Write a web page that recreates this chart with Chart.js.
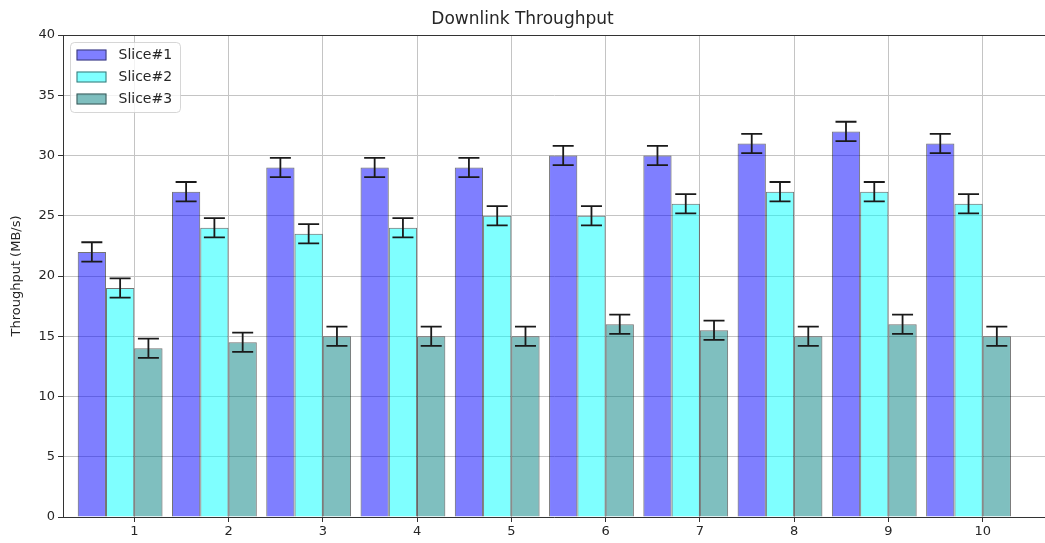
<!DOCTYPE html>
<html>
<head>
<meta charset="utf-8">
<script src="https://cdn.jsdelivr.net/npm/chart.js@4/dist/chart.umd.min.js"></script>
<style>
  html, body { margin: 0; padding: 0; background: #ffffff; }
  canvas { display: block; }
</style>
</head>
<body>
<canvas id="chart" width="1045" height="543"></canvas>
<script>
// Downlink throughput per slice, one bar per slice for each run
const categories = [1, 2, 3, 4, 5, 6, 7, 8, 9, 10];
const seriesNames = ['Slice#1', 'Slice#2', 'Slice#3'];
const slice1 = [22, 27, 29, 29, 29, 30, 30, 31, 32, 31];
const slice2 = [19, 24, 23.5, 24, 25, 25, 26, 27, 27, 26];
const slice3 = [14, 14.5, 15, 15, 15, 16, 15.5, 15, 16, 15];
const err1 = [0.8, 0.8, 0.8, 0.8, 0.8, 0.8, 0.8, 0.8, 0.8, 0.8];
const err2 = [0.8, 0.8, 0.8, 0.8, 0.8, 0.8, 0.8, 0.8, 0.8, 0.8];
const err3 = [0.8, 0.8, 0.8, 0.8, 0.8, 0.8, 0.8, 0.8, 0.8, 0.8];
const yTicks = [0, 5, 10, 15, 20, 25, 30, 35, 40];

const FONT = 'DejaVu Sans';
Chart.defaults.font.family = FONT;
Chart.defaults.color = '#262626';

// group of three bars sits to the left of each tick: Slice#2 ends on the tick
const GROUP_SHIFT = -0.15;
const toPoints = vals => categories.map((c, k) => ({ x: c + GROUP_SHIFT, y: vals[k] }));

const fills = ['rgba(0,0,255,0.5)', 'rgba(0,255,255,0.5)', 'rgba(0,128,128,0.5)'];
const edges = 'rgba(0,0,0,0.55)';

const datasets = [slice1, slice2, slice3].map((vals, i) => ({
  label: seriesNames[i],
  data: toPoints(vals),
  errors: [err1, err2, err3][i],
  backgroundColor: fills[i],
  borderColor: edges,
  borderWidth: 1,
  categoryPercentage: 0.9,
  barPercentage: 1.0
}));

// error bars with caps, placed through the y scale
const errorBars = {
  id: 'errorBars',
  afterDatasetsDraw(chart) {
    const ctx = chart.ctx;
    const ys = chart.scales.y;
    ctx.save();
    ctx.strokeStyle = '#1a1a1a';
    ctx.lineWidth = 1.8;
    chart.data.datasets.forEach((ds, di) => {
      const meta = chart.getDatasetMeta(di);
      meta.data.forEach((bar, k) => {
        const v = ds.data[k].y;
        const e = ds.errors[k];
        const top = ys.getPixelForValue(v + e);
        const bot = ys.getPixelForValue(v - e);
        const cx = bar.x;
        const cap = 10.5;
        ctx.beginPath();
        ctx.moveTo(cx, top); ctx.lineTo(cx, bot);
        ctx.moveTo(cx - cap, top); ctx.lineTo(cx + cap, top);
        ctx.moveTo(cx - cap, bot); ctx.lineTo(cx + cap, bot);
        ctx.stroke();
      });
    });
    ctx.restore();
  }
};

// top frame line and the legend box in the upper-left corner of the plot
const frameAndLegend = {
  id: 'frameAndLegend',
  afterDraw(chart) {
    const ctx = chart.ctx;
    const a = chart.chartArea;
    ctx.save();
    ctx.strokeStyle = '#333333';
    ctx.lineWidth = 1;
    ctx.beginPath();
    ctx.moveTo(a.left, Math.round(a.top) + 0.5);
    ctx.lineTo(a.right, Math.round(a.top) + 0.5);
    ctx.stroke();

    const bx = a.left + 7.5, by = a.top + 7.5, bw = 110, bh = 70, r = 4;
    ctx.beginPath();
    ctx.moveTo(bx + r, by);
    ctx.lineTo(bx + bw - r, by);
    ctx.arcTo(bx + bw, by, bx + bw, by + r, r);
    ctx.lineTo(bx + bw, by + bh - r);
    ctx.arcTo(bx + bw, by + bh, bx + bw - r, by + bh, r);
    ctx.lineTo(bx + r, by + bh);
    ctx.arcTo(bx, by + bh, bx, by + bh - r, r);
    ctx.lineTo(bx, by + r);
    ctx.arcTo(bx, by, bx + r, by, r);
    ctx.closePath();
    ctx.fillStyle = 'rgba(255,255,255,0.8)';
    ctx.fill();
    ctx.strokeStyle = 'rgba(204,204,204,0.8)';
    ctx.stroke();

    ctx.font = '14px "' + FONT + '"';
    ctx.textBaseline = 'middle';
    ctx.textAlign = 'left';
    chart.data.datasets.forEach((ds, i) => {
      const cy = by + 12.5 + i * 22;
      ctx.fillStyle = ds.backgroundColor;
      ctx.fillRect(bx + 6, cy - 5.5, 30, 11);
      ctx.strokeStyle = ds.borderColor;
      ctx.lineWidth = 1;
      ctx.strokeRect(bx + 6.5, cy - 5, 29, 10);
      ctx.fillStyle = '#262626';
      ctx.fillText(ds.label, bx + 48, cy);
    });
    ctx.restore();
  }
};

new Chart(document.getElementById('chart'), {
  type: 'bar',
  data: { datasets },
  options: {
    responsive: false,
    animation: false,
    devicePixelRatio: 1,
    layout: { padding: 0 },
    plugins: {
      legend: { display: false },
      tooltip: { enabled: false },
      title: {
        display: true,
        text: 'Downlink Throughput',
        font: { size: 17, weight: 'normal', family: FONT },
        color: '#262626',
        padding: { top: 9, bottom: 5.6 }
      }
    },
    scales: {
      x: {
        type: 'linear',
        min: 0.244,
        max: 10.661,
        offset: false,
        afterBuildTicks(scale) {
          scale.ticks = categories.map(v => ({ value: v }));
        },
        afterFit(scale) { scale.height = 26; },
        ticks: {
          font: { size: 13 },
          color: '#262626',
          padding: 2,
          maxRotation: 0,
          autoSkip: false,
          callback: v => String(v)
        },
        grid: {
          offset: false,
          color: '#c4c4c4',
          lineWidth: 1,
          tickLength: 5,
          tickColor: '#333333'
        },
        border: { display: true, color: '#333333', width: 1 }
      },
      y: {
        min: 0,
        max: 40,
        afterBuildTicks(scale) {
          scale.ticks = yTicks.map(v => ({ value: v }));
        },
        afterFit(scale) { scale.width = 63; },
        ticks: {
          font: { size: 13 },
          color: '#262626',
          padding: 3
        },
        grid: {
          color: '#c4c4c4',
          lineWidth: 1,
          tickLength: 5,
          tickColor: '#333333'
        },
        border: { display: true, color: '#333333', width: 1 },
        title: {
          display: true,
          text: 'Throughput (MB/s)',
          font: { size: 13, family: FONT },
          color: '#262626',
          padding: { top: 9, bottom: 0 }
        }
      }
    }
  },
  plugins: [errorBars, frameAndLegend]
});
</script>
</body>
</html>
